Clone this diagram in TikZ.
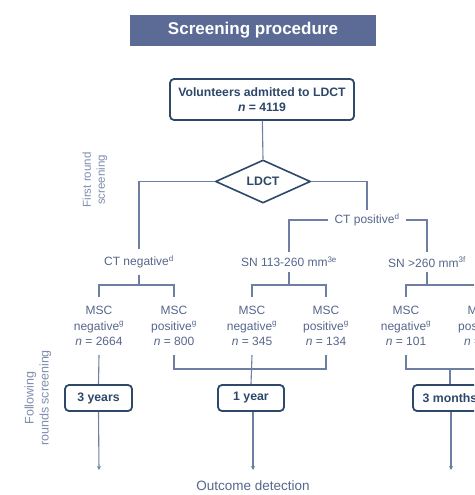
\documentclass[tikz,border=0pt]{standalone}
\usepackage{fontspec}
\setmainfont{Liberation Sans}
\usetikzlibrary{shapes.geometric,arrows.meta}
\definecolor{titlefill}{HTML}{5B6B96}
\definecolor{boxline}{HTML}{2E4869}
\definecolor{conn}{HTML}{6F7FA3}
\definecolor{lbl}{HTML}{56678C}
\definecolor{side}{HTML}{7F8DAE}
\definecolor{boxtext}{HTML}{2E4869}
\tikzset{
  link/.style={draw=conn,line width=1.1pt},
  stepbox/.style={draw=boxline,line width=1.8pt,rounded corners=4pt,fill=white,
    font=\bfseries\fontsize{12.3}{14}\selectfont,text=boxtext,inner sep=0pt},
  lab/.style={text=lbl,font=\fontsize{12}{15.5}\selectfont,align=center,inner sep=0pt},
  sidelab/.style={text=side,align=center,rotate=90},
  tip/.style={-{Stealth[length=4pt,width=4pt]}}
}
\begin{document}
\begin{tikzpicture}[x=1pt,y=-1pt]
\useasboundingbox (0,0) rectangle (474,495);
\clip (0,0) rectangle (474,495);
\fill[white] (0,0) rectangle (474,495);

% title bar
\node[fill=titlefill,minimum width=246pt,minimum height=31pt,inner sep=0pt,
  text=white,font=\bfseries\fontsize{17}{19}\selectfont] (title) at (253,30.5) {Screening procedure};

% start and decision
\node[stepbox,minimum width=184pt,minimum height=41pt,align=center,
  font=\bfseries\fontsize{12.2}{15}\selectfont] (vol) at (262,99.5)
  {Volunteers admitted to LDCT\\\textit{n} = 4119};
\node[diamond,draw=boxline,line width=1.6pt,minimum width=95pt,minimum height=43pt,
  aspect=2.2,inner sep=0pt,text=boxtext,font=\bfseries\fontsize{12.3}{14}\selectfont] (ldct) at (263,181.5) {LDCT};

% first split
\node[lab,minimum height=25pt] (ctneg) at (139,262) {CT negative\textsuperscript{d}};
\node[lab,minimum height=20pt,inner xsep=6pt] (ctpos) at (367,220) {CT positive\textsuperscript{d}};
\node[lab,minimum height=20pt] (sna) at (289,262) {SN 113-260 mm\textsuperscript{3e}};
\node[lab,minimum height=20pt] (snb) at (427,262) {SN >260 mm\textsuperscript{3f}};

% MSC results
\node[lab,minimum height=58pt] (m1) at (99,326) {MSC\\negative\textsuperscript{g}\\\textit{n} = 2664};
\node[lab,minimum height=58pt] (m2) at (174,326) {MSC\\positive\textsuperscript{g}\\\textit{n} = 800};
\node[lab,minimum height=58pt] (m3) at (252,326) {MSC\\negative\textsuperscript{g}\\\textit{n} = 345};
\node[lab,minimum height=58pt] (m4) at (326,326) {MSC\\positive\textsuperscript{g}\\\textit{n} = 134};
\node[lab,minimum height=58pt] (m5) at (406,326) {MSC\\negative\textsuperscript{g}\\\textit{n} = 101};
\node[lab,minimum height=58pt] (m6) at (481,326) {MSC\\positive\textsuperscript{g}\\\textit{n} = 14};

% follow-up intervals
\node[stepbox,minimum width=67pt,minimum height=26pt] (y3) at (98.5,398) {3 years};
\node[stepbox,minimum width=66pt,minimum height=26pt] (y1) at (251,398) {1 year};
\node[stepbox,minimum width=74pt,minimum height=26pt] (mo3) at (450,398) {3 months};

\node[text=lbl,font=\fontsize{13.5}{15}\selectfont] (out) at (253,486) {Outcome detection};

% side labels
\node[sidelab,font=\fontsize{11.5}{14}\selectfont] (first) at (95,180) {First round\\screening};
\node[sidelab,font=\fontsize{12.5}{15}\selectfont] (follow) at (38,398) {Following\\rounds screening};

% levels of the brackets and arrow ends
\coordinate (lvla) at (0,285);
\coordinate (lvlb) at (0,369);
\coordinate (e1) at (99,470);
\coordinate (e2) at (253,470);
\coordinate (e3) at (451,470);

% connectors
\draw[link] (vol) -- (ldct.north);
\draw[link] (ldct.west) -| (ctneg.north);
\draw[link] (ldct.east) -| (ctpos.north);
\draw[link] (ctpos.west) -| (sna.north);
\draw[link] (ctpos.east) -| (snb.north);

\draw[link] (ctneg.south) -- (ctneg.south |- lvla);
\draw[link] (m1.north) -- (m1.north |- lvla) -| (m2.north);
\draw[link] (sna.south) -- (sna.south |- lvla);
\draw[link] (m3.north) -- (m3.north |- lvla) -| (m4.north);
\draw[link] (snb.south) -- (snb.south |- lvla);
\draw[link] (m5.north) -- (m5.north |- lvla) -| (m6.north);

\draw[link] (m1.south) -- (y3.north);
\draw[link] (m2.south) -- (m2.south |- lvlb) -| (m4.south);
\draw[link] (m3.south) -- (y1.north);
\draw[link] (m5.south) -- (m5.south |- lvlb) -| (m6.south);
\draw[link] (mo3.north |- lvlb) -- (mo3.north);

\draw[link,tip] (y3.south) -- (e1);
\draw[link,tip] (y1.south -| e2) -- (e2);
\draw[link,tip] (mo3.south -| e3) -- (e3);
\end{tikzpicture}
\end{document}
